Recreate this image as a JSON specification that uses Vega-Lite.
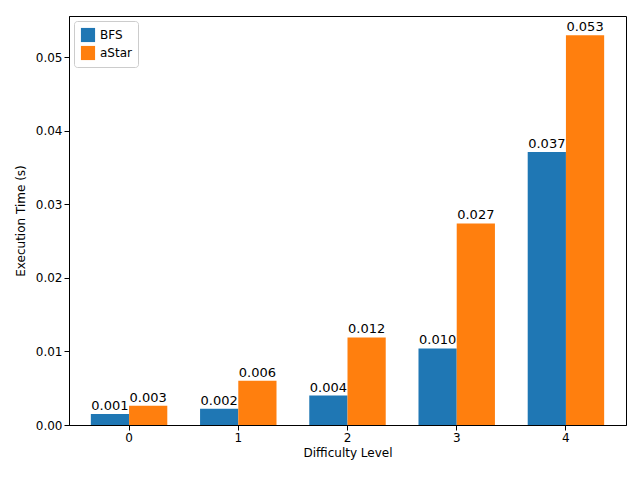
{
  "$schema": "https://vega.github.io/schema/vega-lite/v6.json",
  "width": 640,
  "height": 480,
  "autosize": {"type": "fit", "contains": "padding"},
  "padding": {"left": 14, "right": 14, "top": 16, "bottom": 22},
  "data": {
    "values": [
      {"level": "0", "algo": "BFS", "time": 0.0015, "label": "0.001"},
      {"level": "1", "algo": "BFS", "time": 0.0022, "label": "0.002"},
      {"level": "2", "algo": "BFS", "time": 0.0040, "label": "0.004"},
      {"level": "3", "algo": "BFS", "time": 0.0104, "label": "0.010"},
      {"level": "4", "algo": "BFS", "time": 0.0371, "label": "0.037"},
      {"level": "0", "algo": "aStar", "time": 0.0026, "label": "0.003"},
      {"level": "1", "algo": "aStar", "time": 0.0060, "label": "0.006"},
      {"level": "2", "algo": "aStar", "time": 0.0119, "label": "0.012"},
      {"level": "3", "algo": "aStar", "time": 0.0274, "label": "0.027"},
      {"level": "4", "algo": "aStar", "time": 0.0530, "label": "0.053"}
    ]
  },
  "encoding": {
    "x": {
      "field": "level", "type": "nominal", "title": "Difficulty Level",
      "scale": {"paddingInner": 0.3, "paddingOuter": 0.2},
      "axis": {"labelAngle": 0, "grid": false, "domainColor": "black", "tickColor": "black", "titlePadding": 4}
    },
    "xOffset": {"field": "algo", "type": "nominal", "sort": ["BFS", "aStar"], "scale": {"paddingInner": 0, "paddingOuter": 0}},
    "y": {
      "field": "time", "type": "quantitative", "title": "Execution Time (s)",
      "scale": {"domain": [0, 0.0556], "nice": false},
      "axis": {"values": [0, 0.01, 0.02, 0.03, 0.04, 0.05], "format": ".2f", "grid": false, "domainColor": "black", "tickColor": "black", "titlePadding": 8}
    }
  },
  "layer": [
    {
      "mark": {"type": "bar", "strokeWidth": 0},
      "encoding": {
        "color": {
          "field": "algo", "type": "nominal", "sort": ["BFS", "aStar"],
          "scale": {"domain": ["BFS", "aStar"], "range": ["#1f77b4", "#ff7f0e"]},
          "legend": {"title": null, "orient": "top-left", "offset": 5, "symbolType": "square", "symbolSize": 200, "labelFontSize": 12, "padding": 6, "strokeColor": "#cccccc", "fillColor": "white", "cornerRadius": 3}
        }
      }
    },
    {
      "mark": {"type": "text", "dy": -8, "fontSize": 13, "color": "black"},
      "encoding": {"text": {"field": "label"}}
    }
  ],
  "config": {
    "font": "DejaVu Sans",
    "view": {"stroke": "black"},
    "axis": {"labelFontSize": 12, "titleFontSize": 12, "titleFontWeight": "normal", "labelColor": "black", "titleColor": "black"}
  }
}
